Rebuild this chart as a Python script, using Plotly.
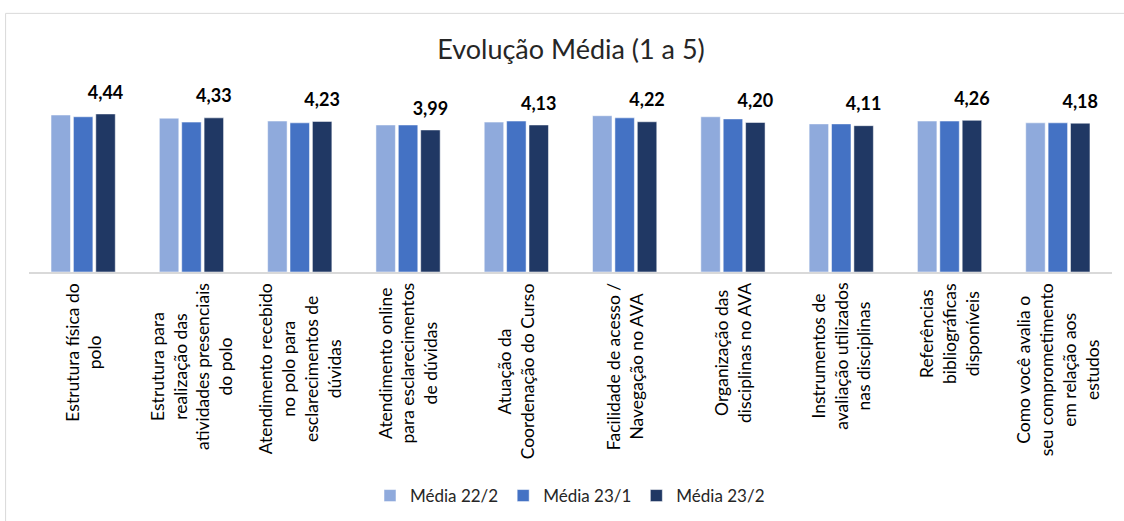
import plotly.graph_objects as go

categories = [
    "Estrutura física do polo",
    "Estrutura para realização das atividades presenciais do polo",
    "Atendimento recebido no polo para esclarecimentos de dúvidas",
    "Atendimento online para esclarecimentos de dúvidas",
    "Atuação da Coordenação do Curso",
    "Facilidade de acesso / Navegação no AVA",
    "Organização das disciplinas no AVA",
    "Instrumentos de avaliação utilizados nas disciplinas",
    "Referências bibliográficas disponíveis",
    "Como você avalia o seu comprometimento em relação aos estudos",
]
tick_labels = [
    "Estrutura física do<br>polo",
    "Estrutura para<br>realização das<br>atividades presenciais<br>do polo",
    "Atendimento recebido<br>no polo para<br>esclarecimentos de<br>dúvidas",
    "Atendimento online<br>para esclarecimentos<br>de dúvidas",
    "Atuação da<br>Coordenação do Curso",
    "Facilidade de acesso /<br>Navegação no AVA",
    "Organização das<br>disciplinas no AVA",
    "Instrumentos de<br>avaliação utilizados<br>nas disciplinas",
    "Referências<br>bibliográficas<br>disponíveis",
    "Como você avalia o<br>seu comprometimento<br>em relação aos<br>estudos",
]
media_22_2 = [4.41, 4.32, 4.24, 4.13, 4.21, 4.39, 4.36, 4.16, 4.24, 4.19]
media_23_1 = [4.36, 4.21, 4.19, 4.13, 4.24, 4.33, 4.30, 4.16, 4.24, 4.19]
media_23_2 = [4.44, 4.33, 4.23, 3.99, 4.13, 4.22, 4.20, 4.11, 4.26, 4.18]
series_names = ["Média 22/2", "Média 23/1", "Média 23/2"]
colors = ["#8FAADC", "#4472C4", "#203864"]

FONT = "Lato"

fig = go.Figure()
for name, vals, col in zip(series_names, [media_22_2, media_23_1, media_23_2], colors):
    kw = {}
    if name == "Média 23/2":
        kw = dict(
            text=[f"{v:.2f}".replace(".", ",") for v in vals],
            texttemplate="<span style='font-size:18px'><b>%{text}</b></span><br> ",
            textposition="outside",
            constraintext="none",
            textfont=dict(family=FONT, size=8, color="#000000"),
            cliponaxis=False,
        )
    fig.add_trace(go.Bar(
        x=categories, y=vals, name=name,
        marker=dict(color=col, line=dict(color="rgba(255,255,255,0.5)", width=1)),
        hoverinfo="x+y+name",
        **kw,
    ))

for cat, lab in zip(categories, tick_labels):
    fig.add_annotation(
        x=cat, y=0, xref="x", yref="paper",
        text=lab, textangle=-90, showarrow=False,
        xanchor="center", yanchor="top", yshift=-9, align="center",
        font=dict(family=FONT, size=17.5, color="#000000"),
    )

fig.add_shape(type="rect", xref="paper", yref="paper",
              x0=-0.0216, x1=1.2, y0=-3, y1=1.453,
              line=dict(color="#D9D9D9", width=1), fillcolor="rgba(0,0,0,0)", layer="below")

fig.update_layout(
    width=1124, height=521,
    margin=dict(l=29, r=12, t=94, b=249),
    paper_bgcolor="white", plot_bgcolor="white",
    barmode="group", bargap=0.38, bargroupgap=0.13,
    title=dict(text="Evolução Média (1 a 5)", x=571 / 1124, xanchor="center",
               y=1 - 50 / 521, yanchor="middle",
               font=dict(family=FONT, size=27, color="#262626")),
    font=dict(family=FONT, color="#000000"),
    legend=dict(orientation="h", xref="container", yref="container",
                x=570 / 1124, xanchor="center", y=1 - 496 / 521, yanchor="middle",
                font=dict(family=FONT, size=17, color="#262626"),
                itemwidth=30, traceorder="normal"),
    xaxis=dict(showticklabels=False, showline=True, linecolor="#D9D9D9", linewidth=1.5,
               ticks="", showgrid=False),
    yaxis=dict(range=[0, 5], visible=False, showgrid=False),
    showlegend=True,
)

fig.write_html("out.html", config={"displayModeBar": False},
               post_script="document.body.style.margin='0';")
